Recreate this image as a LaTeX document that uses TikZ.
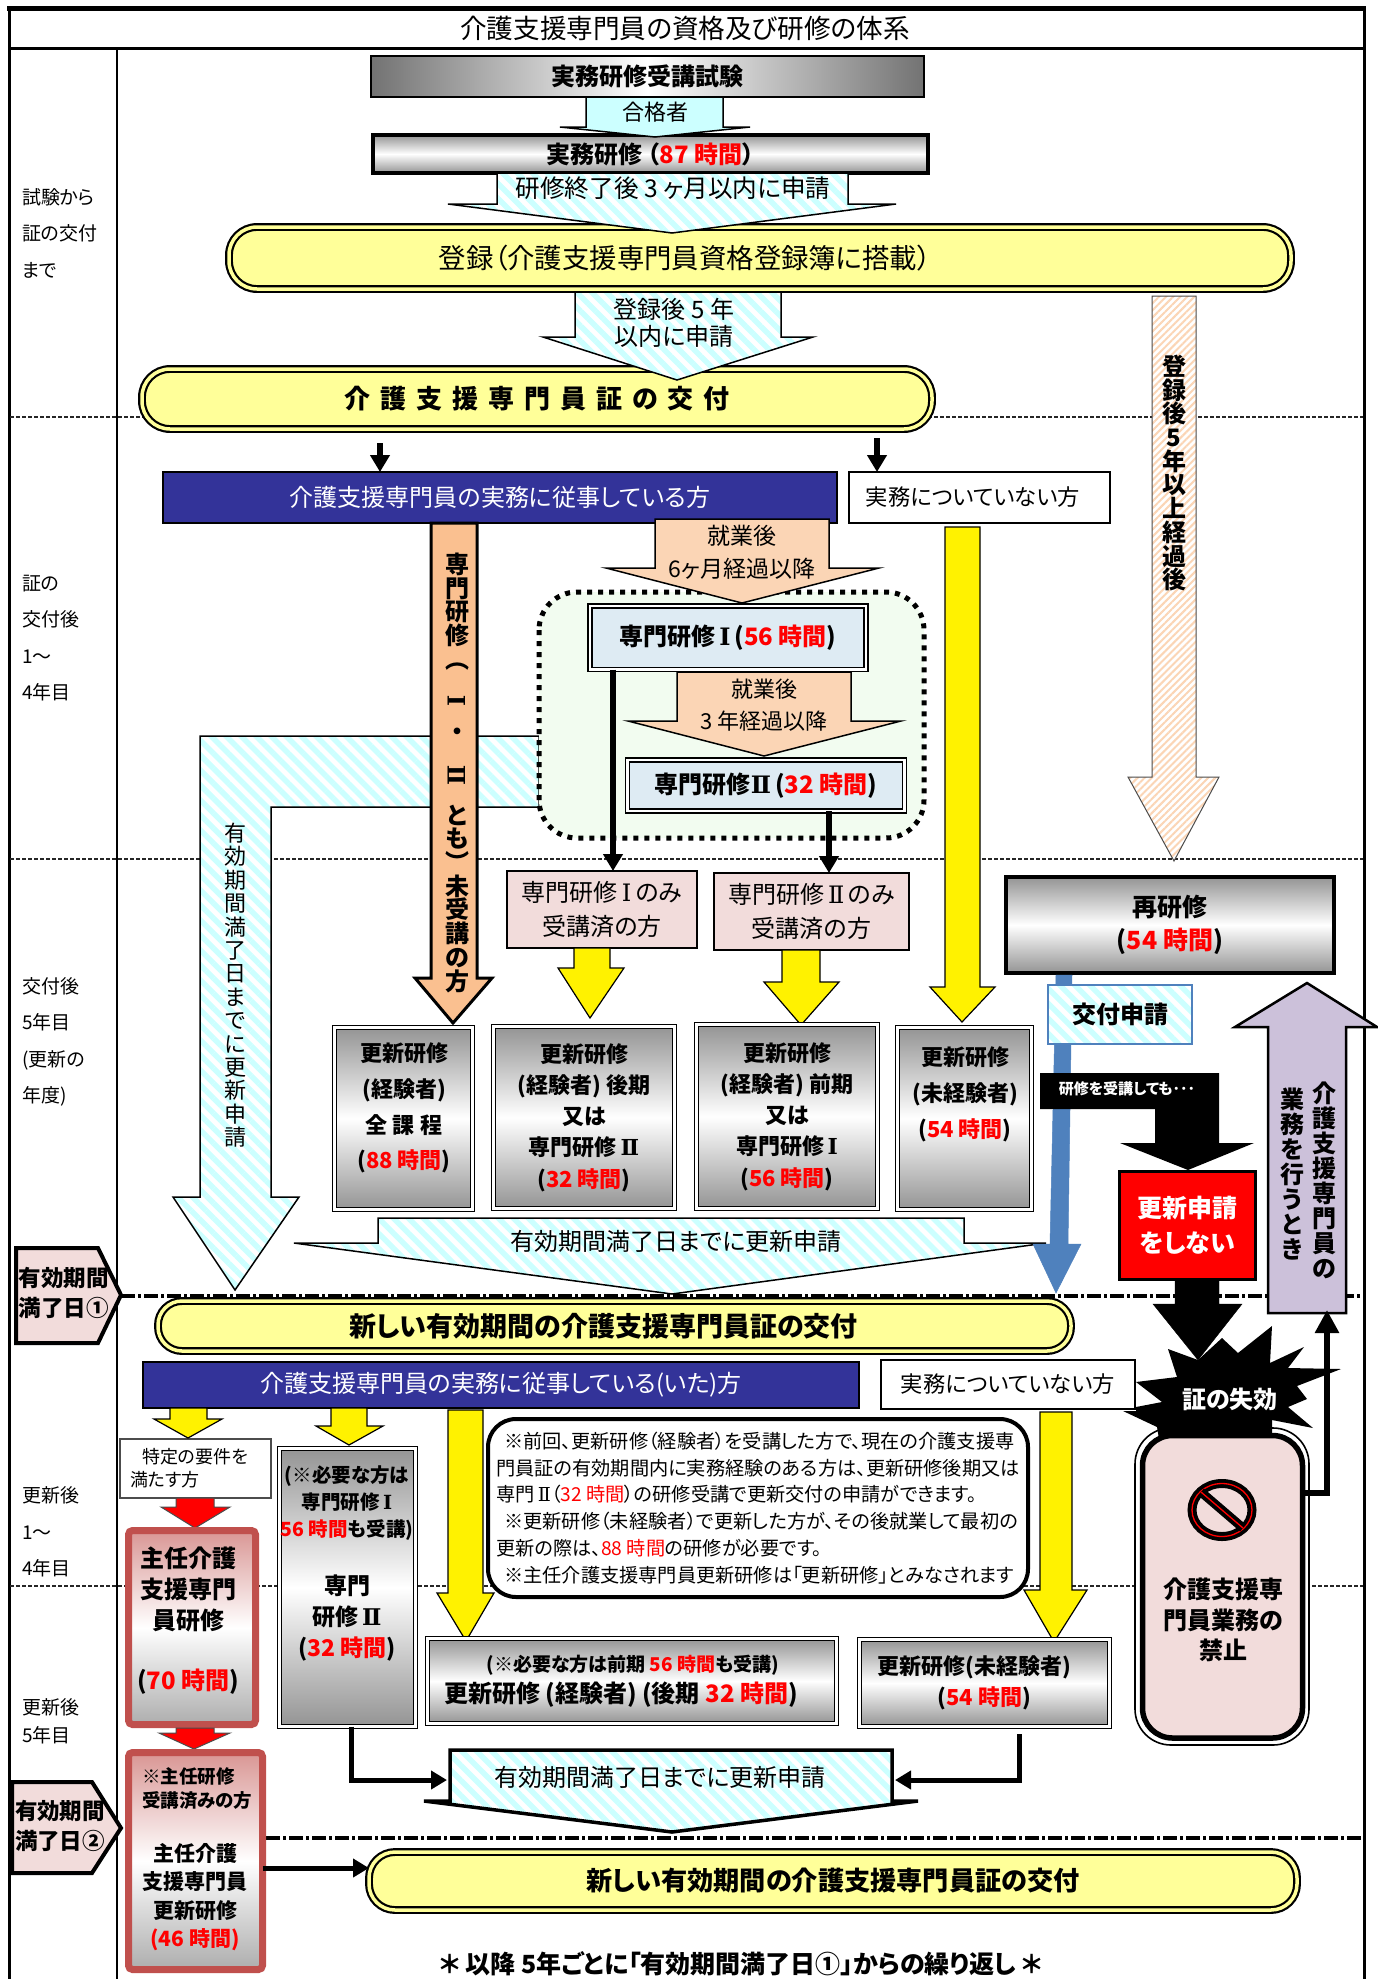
\documentclass[tikz,border=0pt]{standalone}
\usepackage{fontspec}
\setmainfont[RawFeature={+palt}]{Noto Sans CJK JP}
\newfontfamily\romf{DejaVu Serif}
\usetikzlibrary{arrows.meta,patterns.meta,calc}
\definecolor{cy}{HTML}{CCFFFF}
\definecolor{peach}{HTML}{FBD5B5}
\definecolor{orng}{HTML}{FAC090}
\definecolor{plyl}{HTML}{FFFF99}
\definecolor{navy2}{HTML}{333399}
\definecolor{pnk}{HTML}{F2DCDB}
\definecolor{lav}{HTML}{CCC1DA}
\definecolor{blu}{HTML}{4F81BD}
\definecolor{pblu}{HTML}{DEEBF3}
\definecolor{pgrn}{HTML}{F2FCF0}
\definecolor{rbd}{HTML}{C0504D}
\definecolor{rtop}{HTML}{D99694}
\newcommand\fz[2]{\fontsize{#1}{#2}\selectfont}
\newcommand\hr[1]{\textcolor{red}{\bfseries #1}}
\newcommand\RI{{\romf Ⅰ}}
\newcommand\RII{{\romf Ⅱ}}
\newcommand\rI{\rotatebox[origin=c]{90}{\RI}}
\newcommand\rII{\rotatebox[origin=c]{90}{\RII}}
\newcommand\shl[2]{#2\kern#1pt\mbox{}}
\newcommand\bx[7]{%
 \pgfmathsetmacro\bxw{#4-#2}\pgfmathsetmacro\bxh{#5-#3}%
 \pgfmathsetmacro\bxx{(#2+#4)/2}\pgfmathsetmacro\bxy{(#3+#5)/2}%
 \node[minimum width=\bxw pt,minimum height=\bxh pt,#6] (#1) at (\bxx,\bxy) {#7};}
% arrow polygon: style, stem left, stem right, top, head left, head right, shoulder, tipx, tipy
\newcommand\dn[9]{\draw[#1] (#2,#4)--(#3,#4)--(#3,#7)--(#6,#7)--(#8,#9)--(#5,#7)--(#2,#7)--cycle;}
\tikzset{
 every node/.style={align=center,inner sep=0pt,outer sep=0pt},
 hpat/.style={preaction={fill=white},pattern={Lines[angle=-45,distance=10.6pt,line width=5.5pt]},pattern color=cy},
 hatchc/.style={hpat,draw=black,line width=1.5pt},
 hatcho/.style={preaction={fill=white},pattern={Lines[angle=45,distance=5pt,line width=2pt]},pattern color=peach,draw=black!70,line width=1pt},
 yarrow/.style={fill=yellow,draw=black,line width=1.2pt},
 parrow/.style={fill=peach,draw=black,line width=1.5pt},
 gradv/.style={top color=black!42,bottom color=black!42,middle color=white},
 dbl/.style={draw=black,line width=1.6pt,double=white,double distance=2.6pt},
 gbox/.style={gradv,dbl},
 lbox/.style={fill=pblu,dbl},
 ybox/.style={fill=plyl,draw=black,line width=2.2pt,double=plyl,double distance=3.5pt},
 navybox/.style={fill=navy2,draw=black,line width=2.5pt,text=white,font=\fz{24}{26}},
 wbox/.style={fill=white,draw=black,line width=2.5pt,font=\fz{22.3}{26}},
 pbox/.style={fill=pnk,draw=black,line width=2.5pt,font=\fz{24}{34}},
 rbox/.style={top color=rtop,bottom color=black!32,middle color=white,draw=rbd,line width=7pt,rounded corners=4pt},
 conn/.style={line width=5.5pt,-{Triangle[length=17pt,width=19pt]}},
 elb/.style={line width=5pt,-{Triangle[length=16pt,width=18pt]}},
 side/.style={anchor=west,align=left,font=\fz{19}{36.5}},
 dotl/.style={black!85,line width=1.3pt,dash pattern=on 4pt off 2pt},
 dashl/.style={black,line width=3.5pt,dash pattern=on 14pt off 3pt on 3pt off 3pt},
 vb/.style={anchor=north,font=\bfseries\fz{24}{23.7}},
}
\begin{document}
\begin{tikzpicture}[x=1pt,y=-1pt]
\useasboundingbox (0,0) rectangle (1378,1979);
\fill[white] (0,0) rectangle (1378,1979);
% frame
\draw[line width=5pt] (7,8)--(1366,8);
\draw[line width=3pt] (9,8)--(9,1979);
\draw[line width=3pt] (1364,8)--(1364,1979);
\draw[line width=3pt] (9,48)--(1364,48);
\draw[line width=1.5pt] (117,48)--(117,1979);
\node[font=\fz{26.6}{28}] (title) at (685,28) {介護支援専門員の資格及び研修の体系};
% horizontal rules
\draw[dotl] (10,417)--(1363,417);
\draw[dotl] (10,859)--(1363,859);
\draw[dotl] (10,1586)--(1363,1586);
\draw[dashl] (121,1296)--(1362,1296);
\draw[dashl] (266,1838)--(1362,1838);
% side labels
\node[side] (s1) at (22,233) {試験から\\証の交付\\まで};
\node[side] (s2) at (22,638) {証の\\交付後\\1～\\4年目};
\node[side] (s3) at (22,1042) {交付後\\5年目\\(更新の\\年度)};
\node[side] (s4) at (22,1532) {更新後\\1～\\4年目};
\node[anchor=west,align=left,font=\fz{19}{28}] (s5) at (22,1721) {更新後\\5年目};
% top chain
\bx{exam}{371}{56}{924}{97}{left color=black!55,right color=black!55,middle color=white,draw=black,line width=2pt,font=\bfseries\fz{24}{28}}{実務研修受講試験}
\bx{jitsumu}{373}{135}{928}{173}{gradv,draw=black,line width=4.5pt,font=\bfseries\fz{24}{28}}{実務研修 （\hr{87 時間}）}
\dn{fill=cy,draw=black,line width=1.5pt}{586}{723}{97}{560}{750}{127}{655}{137}
\node[font=\fz{22}{26}] (l1) at (655,112) {合格者};
\bx{toroku}{229}{227}{1291}{289}{ybox,rounded corners=28pt,font=\fz{27.4}{28}}{\shl{150}{登録（介護支援専門員資格登録簿に搭載）}}
\dn{hatchc}{497}{848}{173}{448}{896}{204}{672}{233}
\node[font=\fz{24.6}{26}] (l2) at (673,188) {研修終了後 3 ヶ月以内に申請};
\bx{kofu}{142}{369}{932}{429}{ybox,rounded corners=28pt,font=\bfseries\fz{26}{28}}{介\hspace{10pt}護\hspace{10pt}支\hspace{10pt}援\hspace{10pt}専\hspace{10pt}門\hspace{10pt}員\hspace{10pt}証\hspace{10pt}の\hspace{10pt}交\hspace{10pt}付}
\dn{hatchc}{575}{781}{292}{543}{813}{337}{677}{380}
\node[font=\fz{24}{27}] (l3) at (674,323) {登録後 5 年\\以内に申請};
% L-shaped renewal arrow
\draw[hatchc] (539,736)--(200,736)--(200,1197)--(173,1197)--(235,1290)--(299,1197)--(271,1197)--(271,807)--(539,807)--cycle;
\node[anchor=north,font=\fz{22}{23.4}] (l4) at (235,823) {有\\効\\期\\間\\満\\了\\日\\ま\\で\\に\\更\\新\\申\\請};
% navy / white row
\bx{navy}{163}{472}{837}{523}{navybox}{介護支援専門員の実務に従事している方}
\bx{nojob}{849}{472}{1110}{523}{wbox}{\shl{13}{実務についていない方}}
\coordinate (c1) at (380,443);
\coordinate (c2) at (877,438);
\draw[conn] (c1)--(c1 |- navy.north);
\draw[conn] (c2)--(c2 |- nojob.north);
% orange long arrow
\dn{fill=orng,draw=black,line width=3pt}{431}{477}{523}{415}{492}{978}{453}{1023}
\node[vb] (l5) at (457,553) {専\\門\\研\\修\\︵\\[18pt]\rI\\[7pt]・\\[20pt]\rII\\[16pt]と\\も\\︶\\未\\受\\講\\の\\方};
% dotted region
\draw[fill=pgrn,draw=black,line width=5pt,dash pattern=on 5pt off 6pt,rounded corners=38pt] (539,592) rectangle (924,838);
\dn{parrow}{655}{829}{519}{606}{879}{568}{742}{603}
\node[font=\fz{23}{33}] (l6) at (742,552) {就業後\\6ヶ月経過以降};
\bx{sen1}{590}{606}{866}{669.5}{lbox,font=\bfseries\fz{24}{28}}{専門研修\,\RI\,(\hr{56 時間})}
\dn{parrow}{677}{851}{672}{628}{901}{721}{764}{756}
\node[font=\fz{22}{32}] (l7) at (764,705) {就業後\\3\hspace{4pt}年経過以降};
\bx{sen2}{627.5}{760}{904.5}{811}{lbox,font=\bfseries\fz{24}{28}}{専門研修\RII\,(\hr{32 時間})}
% pink boxes
\bx{p1}{507}{871}{697}{948}{pbox}{専門研修\,\RI\,のみ\\受講済の方}
\bx{p2}{714}{873}{909}{950}{pbox}{専門研修\,\RII\,のみ\\受講済の方}
\draw[conn] (613,0 |- sen1.south)--(613,0 |- p1.north);
\draw[conn] (829,0 |- sen2.south)--(829,0 |- p2.north);
% yellow arrow for non-practising
\dn{yarrow}{945}{980}{527}{930}{995}{987}{962}{1022}
\dn{yarrow}{574}{610}{948}{558}{624}{968}{590}{1018}
\dn{yarrow}{782}{820}{950}{764}{839}{982}{801}{1025}
% hatched orange
\dn{hatcho}{1152}{1196}{296}{1128}{1219}{777}{1174}{861}
\node[vb] (l8) at (1174,355) {登\\録\\後\\5\\年\\以\\上\\経\\過\\後};
% update boxes
\bx{upA}{334.5}{1027.5}{472.5}{1209.5}{gbox}{}
\node[font=\bfseries\fz{22}{35.7}] (lA) at (404,1108) {更新研修\\(経験者)\\全\hspace{6pt}課\hspace{6pt}程\\(\hr{88 時間})};
\bx{upB}{493.5}{1026.5}{674.5}{1208.5}{gbox,font=\bfseries\fz{22}{31.3}}{更新研修\\(経験者) 後期\\又は\\専門研修\,\RII\\(\hr{32 時間})}
\bx{upC}{696.5}{1024.5}{877.5}{1208.5}{gbox,font=\bfseries\fz{22}{31.3}}{更新研修\\(経験者) 前期\\又は\\専門研修\,\RI\\(\hr{56 時間})}
\bx{upD}{897.5}{1027.5}{1031.5}{1209.5}{gbox}{}
\node[font=\bfseries\fz{22}{36}] (lD) at (965,1094) {更新研修\\(未経験者)\\(\hr{54 時間})};
% renewal big arrow
\dn{hatchc}{378}{964}{1218}{294}{1046}{1243}{672}{1294}
\node[font=\fz{24}{26}] (l9) at (676,1241) {有効期間満了日までに更新申請};
% re-training
\bx{sai}{1006}{877}{1334}{973}{gradv,draw=black,line width=4pt,font=\bfseries\fz{25}{33}}{再研修\\(\hr{54 時間})}
\draw[fill=blu,draw=blu,line width=0.5pt] (1056,975)--(1072,975)--(1068,1244)--(1081,1244)--(1056,1293)--(1033,1244)--(1050,1244)--cycle;
\bx{kofs}{1048}{985}{1192}{1044}{hpat,draw=blu,line width=2pt,font=\bfseries\fz{24}{26}}{交付申請}
% black bent arrow + red
\fill[black] (1040,1073)--(1219,1073)--(1219,1143)--(1254,1143)--(1188,1170)--(1120,1143)--(1155,1143)--(1155,1109)--(1040,1109)--cycle;
\node[text=white,font=\bfseries\fz{15}{18}] (l10) at (1127,1089) {研修を受講しても･･･};
\bx{red}{1119.5}{1171.5}{1255.5}{1279.5}{fill=red,draw=black,line width=3pt,text=white,font=\bfseries\fz{25}{35}}{更新申請\\をしない}
% purple up arrow
\draw[fill=lav,draw=black,line width=2.5pt] (1268,1313)--(1346,1313)--(1346,1027)--(1377,1027)--(1307,983)--(1235,1027)--(1268,1027)--cycle;
\node[anchor=north,font=\bfseries\fz{24}{25}] (l11) at (1324,1082) {介\\護\\支\\援\\専\\門\\員\\の};
\node[anchor=north,font=\bfseries\fz{24}{25}] (l12) at (1292,1088) {業\\務\\を\\行\\う\\と\\き};
% pentagons
\draw[fill=pnk,draw=black,line width=4pt] (16,1248)--(98,1248)--(121,1295)--(98,1343)--(16,1343)--cycle;
\node[font=\bfseries\fz{22.5}{30}] (m1) at (64,1293) {有効期間\\満了日①};
\draw[fill=pnk,draw=black,line width=4pt] (12,1782)--(92,1782)--(121,1828)--(92,1873)--(12,1873)--cycle;
\node[font=\bfseries\fz{22.5}{30}] (m2) at (60,1826) {有効期間\\満了日②};
% new certificate
\bx{new1}{158}{1301}{1071}{1351}{ybox,rounded corners=24pt,font=\bfseries\fz{27}{28}}{\shl{22}{新しい有効期間の介護支援専門員証の交付}}
\bx{navy3}{143}{1362}{859}{1408}{navybox}{介護支援専門員の実務に従事している(いた)方}
\bx{nojob2}{881}{1360}{1135}{1409}{wbox}{実務についていない方}
% prohibited, outer outline below the burst
\bx{ban0}{1135}{1428}{1309}{1745}{fill=white,draw=black,line width=1.6pt,rounded corners=36pt}{}
% big black arrow and burst
\draw[black,fill=black] (1175,1281)--(1219,1281)--(1219,1304)--(1242,1304)--(1198,1360)--(1153,1304)--(1175,1304)--cycle;
\fill[black] (1168,1349)--(1198,1360)--(1222,1338)--(1238,1353)--(1272,1326)--(1270,1363)--(1304,1347)--(1288,1368)--(1341,1369)--(1297,1386)--(1307,1399)--(1288,1407)--(1313,1428)--(1272,1420)--(1272,1445)--(1160,1445)--(1157,1427)--(1123,1411)--(1136,1411)--(1136,1407)--(1162,1402)--(1136,1382)--(1177,1377)--cycle;
\node[text=white,font=\bfseries\fz{24}{26}] (l13) at (1230,1399) {証の失効};
\bx{ban}{1142.5}{1435.5}{1302.5}{1738}{fill=pnk,draw=black,line width=5.5pt,rounded corners=30pt}{}
\node[font=\bfseries\fz{24}{30.5}] (l14) at (1223,1620) {介護支援専\\門員業務の\\禁止};
\coordinate (nb) at (1222,1510);
\draw[fill=pnk,draw=black,line width=9pt] (nb) ellipse (30 and 26.5);
\draw[red,line width=1.3pt] (nb) ellipse (30 and 26.5);
\draw[black,line width=9pt] ($(nb)+(-21,-18)$)--($(nb)+(21,18)$);
\draw[red,line width=1.3pt] ($(nb)+(-21,-18)$)--($(nb)+(21,18)$);
\coordinate (p3) at (1327,1310);
\draw[line width=6pt,-{Triangle[length=23pt,width=23pt]}] (ban.east |- 0,1493)-|(p3);
% bottom-left
\bx{spec}{120}{1439}{271}{1498}{fill=white,draw=black!70,line width=1.5pt}{}
\node[anchor=west,align=left,font=\fz{18}{23}] (lsp) at (130,1468) {\hspace{12pt}特定の要件を\\満たす方};
\dn{yarrow}{170}{207}{1408}{154}{222}{1419}{188}{1438}
\dn{yarrow}{331}{367}{1408}{316}{383}{1426}{349}{1445}
\bx{g2}{279.5}{1448.5}{415.5}{1726.5}{gbox}{}
\node[font=\bfseries\fz{19.5}{27}] (lg1) at (347,1503) {(※必要な方は\\専門研修\,\RI\\\hr{56 時間}も受講)};
\node[font=\bfseries\fz{23}{31}] (lg2) at (347,1618) {専門\\研修\,\RII\\(\hr{32 時間})};
\dn{fill=red,draw=black!70,line width=1pt}{176}{214}{1498}{161}{230}{1507}{195}{1528}
\bx{shu}{128.5}{1530.5}{255.5}{1724.5}{rbox}{}
\node[font=\bfseries\fz{24}{31}] (ls1) at (188,1589) {主任介護\\支援専門\\員研修};
\node[font=\bfseries\fz{24}{26}] (ls2) at (188,1682) {(\hr{70 時間})};
\dn{fill=red,draw=black!70,line width=1pt}{176}{214}{1728}{159}{230}{1733}{194}{1749}
\bx{shu2}{128.5}{1752.5}{262.5}{1969.5}{rbox}{}
\node[anchor=west,align=left,font=\bfseries\fz{18.5}{24}] (ls3) at (142,1789) {※主任研修\\受講済みの方};
\node[font=\bfseries\fz{21}{28.3}] (ls4) at (195,1897) {主任介護\\支援専門員\\更新研修\\\hr{(46 時間)}};
% long yellow and note
\dn{yarrow}{448}{483}{1410}{437}{494}{1593}{466}{1641}
\dn{yarrow}{1040}{1072}{1412}{1024}{1087}{1590}{1054}{1642}
\bx{note}{488}{1419}{1028}{1597}{fill=white,draw=black,line width=4pt,rounded corners=28pt,align=left,font=\fz{19.2}{26.9}}{\hspace{8pt}※前回、更新研修（経験者）を受講した方で、現在の介護支援専\\門員証の有効期間内に実務経験のある方は、更新研修後期又は\\専門\,\RII（\textcolor{red}{32 時間}）の研修受講で更新交付の申請ができます。\\\hspace{8pt}※更新研修（未経験者）で更新した方が、その後就業して最初の\\更新の際は、\textcolor{red}{88 時間}の研修が必要です。\\\hspace{8pt}※主任介護支援専門員更新研修は「更新研修」とみなされます}
% lower boxes
\bx{k1}{427.5}{1638.5}{836.5}{1723.5}{gbox}{}
\node[font=\bfseries\fz{19}{24}] (lk1) at (633,1665) {(※必要な方は前期 \hr{56 時間}も受講)};
\node[font=\bfseries\fz{24}{26}] (lk2) at (621,1695) {更新研修 (経験者) (後期 \hr{32 時間})};
\bx{k2}{859.5}{1639.5}{1109.5}{1726.5}{gbox,font=\bfseries\fz{22}{31}}{\shl{20}{更新研修(未経験者)}\\(\hr{54 時間})}
% final
\dn{hpat,draw=black,line width=3.5pt}{450}{892}{1750}{424}{918}{1801}{672}{1832}
\node[font=\fz{24}{26}] (h3) at (660,1777) {有効期間満了日までに更新申請};
\coordinate (h3l) at (447,1780);
\coordinate (h3r) at (895,1780);
\draw[elb] (351,0 |- g2.south)|-(h3l);
\draw[elb] (1019,1734)|-(h3r);
\bx{new2}{369}{1852}{1297}{1910}{ybox,rounded corners=26pt,font=\bfseries\fz{26.2}{28}}{新しい有効期間の介護支援専門員証の交付}
\draw[line width=5pt,-{Triangle[length=16pt,width=18pt]}] (shu2.east |- 0,1868)--(new2.west |- 0,1868);
\node[font=\bfseries\fz{25}{28}] (last) at (741,1964) {＊ 以降 5年ごとに「有効期間満了日①」からの繰り返し ＊};
\end{tikzpicture}
\end{document}
